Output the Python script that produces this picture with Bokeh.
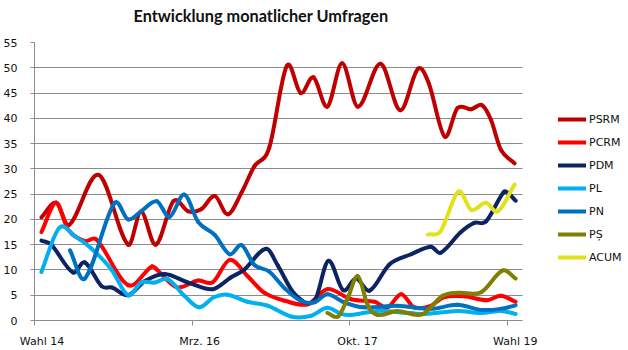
from bokeh.plotting import figure
from bokeh.models import FixedTicker, Legend, LegendItem, Range1d, BoxAnnotation, Title
from bokeh.embed import file_html
from bokeh.resources import INLINE

# ---------------- data ----------------
x_tick_pos = [0, 16, 32, 48]
x_label_pos = [0.76, 16.76, 32.76, 48.76]
x_labels = ["Wahl 14", "Mrz. 16", "Okt. 17", "Wahl 19"]
y_ticks = list(range(0, 56, 5))

psrm_x = [0.7, 2.2, 3.5, 6.5, 9.5, 10.8, 12.3, 14.1, 15.6, 16.9, 18.3, 19.6, 21.0, 22.3, 23.8,
          25.6, 27.0, 28.3, 29.7, 31.2, 32.8, 35.1, 37.1, 38.9, 40.0, 41.6, 42.9, 44.3, 45.4,
          46.3, 47.3, 48.7]
psrm_y = [20.4, 23.3, 18.9, 28.8, 15.0, 21.5, 15.0, 23.6, 21.6, 22.0, 24.6, 21.0, 25.3, 30.5, 34.1,
          50.4, 45.0, 48.1, 42.3, 50.9, 42.3, 50.8, 41.6, 49.8, 46.9, 36.4, 42.0, 41.8, 42.6,
          39.7, 33.8, 31.1]

pcrm_x = [0.7, 2.2, 3.4, 5.1, 6.3, 9.5, 11.9, 12.4, 14.4, 16.6, 18.1, 19.8, 21.6, 23.3, 25.4,
          27.7, 29.7, 32.1, 34.5, 35.8, 37.2, 38.5, 40.2, 41.5, 43.6, 45.9, 47.3, 48.8]
pcrm_y = [17.5, 23.3, 18.0, 15.7, 16.0, 7.0, 10.7, 10.1, 6.6, 7.9, 7.6, 12.0, 8.8, 5.5, 3.9,
          3.2, 6.2, 4.2, 3.7, 2.6, 5.2, 2.6, 2.9, 4.6, 4.8, 4.0, 4.9, 3.7]

pdm_x = [0.7, 1.7, 3.9, 5.1, 6.8, 7.9, 9.5, 11.2, 13.2, 15.6, 18.1, 19.9, 21.3, 23.5, 24.7,
         26.4, 28.4, 29.8, 31.3, 32.6, 34.0, 36.0, 38.2, 40.2, 41.2, 43.2, 44.6, 45.8, 47.6,
         48.2, 48.8]
pdm_y = [15.8, 15.0, 9.5, 11.5, 6.8, 6.5, 5.0, 7.8, 9.2, 7.5, 6.2, 8.5, 10.1, 14.2, 10.8,
         5.2, 3.9, 11.8, 6.0, 8.3, 5.9, 11.1, 13.1, 14.6, 13.4, 17.4, 19.3, 19.6, 25.4,
         24.9, 23.7]

pl_x = [0.7, 2.5, 4.1, 5.8, 7.8, 9.5, 10.8, 12.2, 13.5, 15.2, 16.7, 18.2, 19.6, 21.6, 23.7,
        26.0, 28.0, 29.7, 31.1, 32.1, 34.8, 37.2, 39.5, 42.9, 45.3, 47.3, 48.8]
pl_y = [9.6, 18.3, 16.7, 14.2, 10.1, 5.0, 7.5, 7.5, 8.2, 4.9, 2.6, 4.6, 5.1, 3.7, 2.9,
        0.8, 0.9, 2.5, 1.3, 1.1, 1.9, 1.6, 1.3, 1.9, 1.5, 1.9, 1.3]

pn_x = [3.6, 5.1, 8.1, 9.5, 10.8, 12.4, 13.7, 15.2, 16.6, 18.3, 19.8, 21.0, 22.3, 23.8, 25.4,
        27.0, 28.4, 29.7, 31.4, 33.4, 36.8, 40.2, 42.9, 45.3, 47.3, 48.8]
pn_y = [13.9, 8.3, 23.2, 20.0, 21.6, 23.6, 20.5, 24.9, 19.5, 16.9, 13.1, 14.9, 11.0, 9.7, 6.3,
        3.9, 3.6, 5.2, 3.6, 2.6, 2.9, 2.3, 3.1, 2.1, 2.3, 3.0]

ps_x = [29.7, 30.8, 31.8, 32.8, 33.8, 34.8, 36.8, 39.3, 41.4, 43.0, 45.3, 47.5, 48.8]
ps_y = [1.5, 0.8, 4.6, 8.8, 3.0, 1.1, 1.9, 1.2, 4.9, 5.5, 5.6, 9.9, 8.3]

acum_x = [39.9, 41.2, 43.0, 44.3, 45.8, 47.0, 48.7]
acum_y = [17.0, 17.7, 25.5, 21.9, 23.3, 21.6, 26.9]

series = [
    ("PSRM", psrm_x, psrm_y, "#C00000"),
    ("PCRM", pcrm_x, pcrm_y, "#FF0000"),
    ("PDM", pdm_x, pdm_y, "#0C2461"),
    ("PL", pl_x, pl_y, "#00B0F0"),
    ("PN", pn_x, pn_y, "#0070C0"),
    ("P\u0218", ps_x, ps_y, "#808000"),
    ("ACUM", acum_x, acum_y, "#E2E21B"),
]

X_END_DATA = 49.5      # right end of the plotted area (gridlines, axis)
X_END_FRAME = 60.25    # frame extends under the legend


def smooth_segments(xs, ys):
    """Cubic Hermite (Catmull-Rom style) bezier control points for a smoothed line."""
    n = len(xs)
    m = []
    for i in range(n):
        a = max(i - 1, 0)
        b = min(i + 1, n - 1)
        m.append((ys[b] - ys[a]) / (xs[b] - xs[a]))
    d = dict(x0=[], y0=[], x1=[], y1=[], cx0=[], cy0=[], cx1=[], cy1=[])
    for i in range(n - 1):
        h = xs[i + 1] - xs[i]
        d["x0"].append(xs[i]); d["y0"].append(ys[i])
        d["x1"].append(xs[i + 1]); d["y1"].append(ys[i + 1])
        d["cx0"].append(xs[i] + h / 3); d["cy0"].append(ys[i] + m[i] * h / 3)
        d["cx1"].append(xs[i + 1] - h / 3); d["cy1"].append(ys[i + 1] - m[i + 1] * h / 3)
    return d


p = figure(width=628, height=350, output_backend="svg", toolbar_location=None,
           x_range=Range1d(0, X_END_FRAME), y_range=Range1d(0, 55),
           min_border_left=33, min_border_right=0, min_border_top=42, min_border_bottom=28)

p.title.text = "Entwicklung monatlicher Umfragen"
p.title.text_font = "Lato"
p.title.text_font_style = "bold"
p.title.text_font_size = "16.3px"
p.title.align = "left"
p.title.offset = 99
p.title.standoff = 6
p.title.text_color = "#111111"

# thin spacer between title and plot area
p.add_layout(Title(text=" ", text_font_size="1px", standoff=12), "above")

p.outline_line_color = None
p.background_fill_color = "white"
p.border_fill_color = "white"

# y axis
p.yaxis.ticker = FixedTicker(ticks=y_ticks)
p.yaxis.axis_line_color = "#8c8c8c"
p.yaxis.major_tick_line_color = "#8c8c8c"
p.yaxis.major_tick_in = 0
p.yaxis.major_tick_out = 4
p.yaxis.minor_tick_line_color = None
p.yaxis.major_label_standoff = 13
p.yaxis.major_label_text_font = "DejaVu Sans"
p.yaxis.major_label_text_font_size = "11px"
p.yaxis.major_label_text_color = "#111111"

# x axis
p.xaxis.ticker = FixedTicker(ticks=x_label_pos, minor_ticks=x_tick_pos)
p.xaxis.major_label_overrides = dict(zip(x_label_pos, x_labels))
p.xaxis.bounds = (0, X_END_DATA)
p.xaxis.axis_line_color = "#8c8c8c"
p.xaxis.major_tick_line_color = None
p.xaxis.major_tick_in = 0
p.xaxis.major_tick_out = 0
p.xaxis.minor_tick_line_color = "#8c8c8c"
p.xaxis.minor_tick_in = 0
p.xaxis.minor_tick_out = 5
p.xaxis.major_label_standoff = 9
p.xaxis.major_label_text_font = "DejaVu Sans"
p.xaxis.major_label_text_font_size = "11px"
p.xaxis.major_label_text_color = "#111111"

p.xgrid.grid_line_color = None
p.ygrid.grid_line_color = "#8c8c8c"
p.ygrid.grid_line_width = 1
try:
    p.ygrid.cross_bounds = (0, X_END_DATA)
except Exception:
    p.add_layout(BoxAnnotation(left=X_END_DATA, fill_color="white", fill_alpha=1,
                               line_color=None))

items = []
for name, xs, ys, col in series:
    seg = smooth_segments(xs, ys)
    r = p.bezier(x0=seg["x0"], y0=seg["y0"], x1=seg["x1"], y1=seg["y1"],
                 cx0=seg["cx0"], cy0=seg["cy0"], cx1=seg["cx1"], cy1=seg["cy1"],
                 line_color=col, line_width=4, line_cap="round")
    items.append(LegendItem(label=name, renderers=[r]))

legend = Legend(items=items, location=(524, 55), padding=0, margin=0,
                border_line_color=None, background_fill_alpha=0,
                glyph_width=28, glyph_height=16, label_height=16, spacing=7,
                label_standoff=3, label_text_font="DejaVu Sans",
                label_text_font_size="11px", label_text_color="#111111")
p.add_layout(legend, "center")

open("out.html", "w").write(file_html(p, INLINE))
